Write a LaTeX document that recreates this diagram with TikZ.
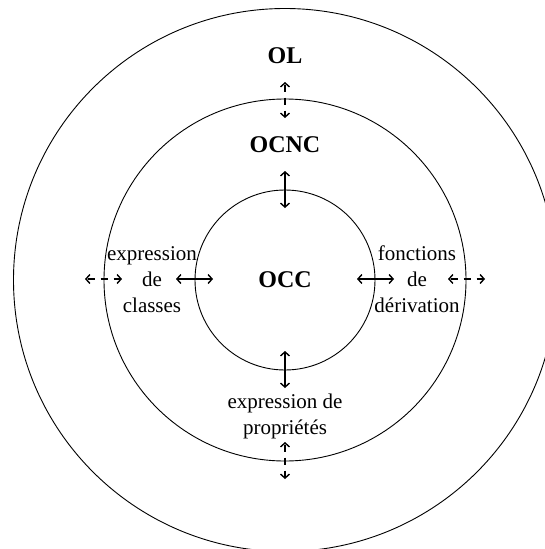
\documentclass[tikz,border=0pt]{standalone}
\usepackage{fontspec}
\setmainfont{Liberation Serif}
\usetikzlibrary{arrows.meta}
\begin{document}
\begin{tikzpicture}[x=1pt,y=-1pt,
  ring/.style={draw=black,line width=0.9pt},
  lbl/.style={font=\fontsize{21}{26}\selectfont,align=center,inner sep=0pt},
  blbl/.style={font=\fontsize{24}{28}\selectfont\bfseries,inner sep=0pt},
  biarrow/.style={line width=1.4pt,{Straight Barb[length=4pt,width=9pt]}-{Straight Barb[length=4pt,width=9pt]}},
  dbiarrow/.style={biarrow,dash pattern=on 7pt off 6pt,dash phase=-1pt}]
\useasboundingbox (0,0) rectangle (545,549);
\coordinate (c) at (285,280);
\draw[ring] (c) circle[radius=90];
\draw[ring] (c) circle[radius=181];
\draw[ring] (c) circle[radius=271.5];
\node[blbl] (ol) at (285,55.6) {OL};
\node[blbl] (ocnc) at (285,145) {OCNC};
\node[blbl] (occ) at (285,280) {OCC};
\node[lbl] (cls) at (152,279.5) {expression\\de\\classes};
\node[lbl] (der) at (417,279.5) {fonctions\\de\\dérivation};
\node[lbl] (prop) at (285,416) {expression de\\propriétés};
% solid arrows
\coordinate (t1) at (285,171); \coordinate (t2) at (285,208);
\coordinate (b1) at (285,351); \coordinate (b2) at (285,388);
\coordinate (l1) at (176,279); \coordinate (l2) at (213,279);
\coordinate (r1) at (357,279); \coordinate (r2) at (394,279);
\draw[biarrow] (t1) -- (t2);
\draw[biarrow] (b1) -- (b2);
\draw[biarrow] (l1) -- (l2);
\draw[biarrow] (r1) -- (r2);
% dashed arrows
\coordinate (dt1) at (285,82); \coordinate (dt2) at (285,118);
\coordinate (db1) at (285,442); \coordinate (db2) at (285,479);
\coordinate (dl1) at (85,279); \coordinate (dl2) at (122,279);
\coordinate (dr1) at (448,279); \coordinate (dr2) at (485,279);
\draw[dbiarrow] (dt1) -- (dt2);
\draw[dbiarrow] (db1) -- (db2);
\draw[dbiarrow] (dl1) -- (dl2);
\draw[dbiarrow] (dr1) -- (dr2);
\end{tikzpicture}
\end{document}
